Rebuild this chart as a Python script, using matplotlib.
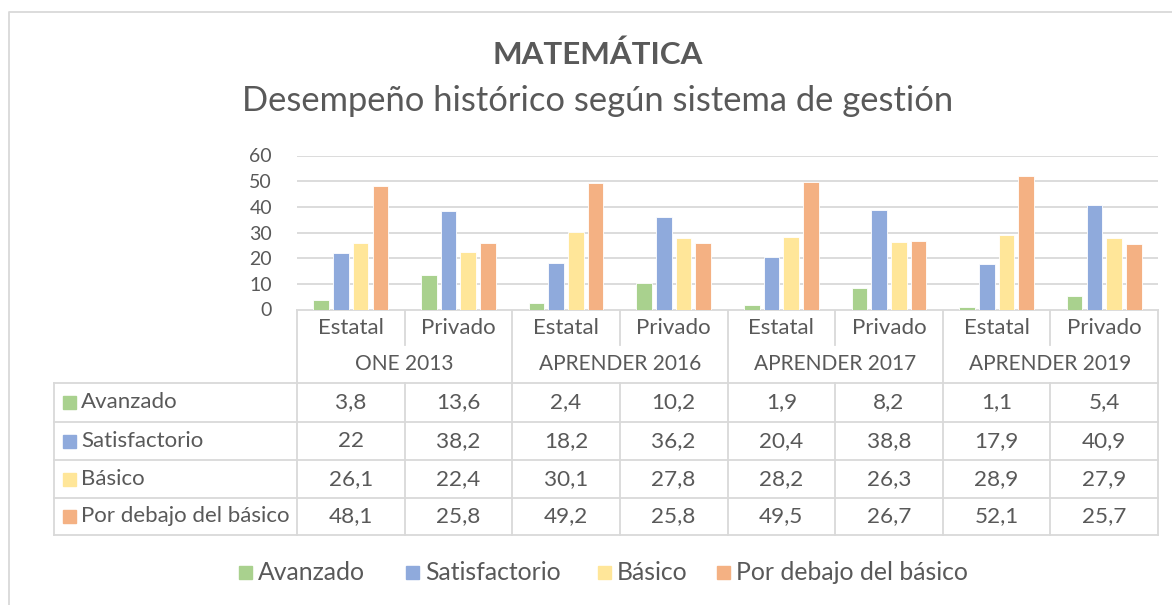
import numpy as np
import matplotlib
matplotlib.use('Agg')
import matplotlib.pyplot as plt
from matplotlib.patches import Rectangle

# Data
groups = ['ONE 2013', 'APRENDER 2016', 'APRENDER 2017', 'APRENDER 2019']
sectors = ['Estatal', 'Privado']
series = ['Avanzado', 'Satisfactorio', 'Básico', 'Por debajo del básico']
avanzado = [3.8, 13.6, 2.4, 10.2, 1.9, 8.2, 1.1, 5.4]
satisfactorio = [22, 38.2, 18.2, 36.2, 20.4, 38.8, 17.9, 40.9]
basico = [26.1, 22.4, 30.1, 27.8, 28.2, 26.3, 28.9, 27.9]
por_debajo = [48.1, 25.8, 49.2, 25.8, 49.5, 26.7, 52.1, 25.7]
colors = ['#A9D18E', '#8FAADC', '#FFE699', '#F4B183']

values = [avanzado, satisfactorio, basico, por_debajo]

W, H = 1172, 605
TXT = '#595959'
GRID = '#D9D9D9'
plt.rcParams['font.family'] = ['Lato', 'DejaVu Sans']

fig = plt.figure(figsize=(W / 100, H / 100), dpi=100)

# overlay in pixel coords for table, titles, legend
ov = fig.add_axes([0, 0, 1, 1])
ov.set_xlim(0, W)
ov.set_ylim(H, 0)
ov.axis('off')

x_left, x_right = 297, 1158
y_top, y_zero = 155.5, 309.5
ax = fig.add_axes([x_left / W, 1 - y_zero / H, (x_right - x_left) / W, (y_zero - y_top) / H])

n = len(avanzado)
x = np.arange(n)
pitch = 0.183
bw = 0.145
for i, (name, vals) in enumerate(zip(series, values)):
    ax.bar(x + (i - 1.5) * pitch, vals, width=bw, color=colors[i],
           edgecolor='white', linewidth=0.6, label=name, zorder=3)

ax.set_xlim(-0.5, n - 0.5)
ax.set_ylim(0, 60)
ax.set_yticks(range(0, 61, 10))
ax.yaxis.grid(True, color=GRID, linewidth=1.3)
ax.set_axisbelow(True)
for s in ax.spines.values():
    s.set_visible(False)
ax.set_xticks([])
ax.tick_params(axis='y', length=0, pad=18, labelsize=14, labelcolor=TXT)

# titles
ov.text(598, 55, 'MATEMÁTICA', ha='center', va='center', fontsize=22.6,
        fontweight='bold', color=TXT)
ov.text(598, 101, 'Desempeño histórico según sistema de gestión', ha='center',
        va='center', fontsize=24.8, color=TXT)

# outer chart border (partially cropped)
ov.plot([9, 9, W + 5], [H + 5, 12, 12], color=GRID, lw=1.3, clip_on=False)

# category axis
col_w = (x_right - x_left) / n
ov.plot([x_left, x_right], [310, 310], color=GRID, lw=1.3)
for k in range(n + 1):
    xe = x_left + k * col_w
    y_end = 383 if k % 2 == 0 else 345
    ov.plot([xe, xe], [310, y_end], color=GRID, lw=1.3)
for k in range(n):
    ov.text(x_left + (k + 0.5) * col_w, 328, sectors[k % 2], ha='center',
            va='center', fontsize=16, color=TXT)
for g, name in enumerate(groups):
    ov.text(x_left + (2 * g + 1) * col_w, 364, name, ha='center', va='center',
            fontsize=15, color=TXT)

# data table
rows_y = [383, 422, 460, 498, 535]
tab_left = 54
for yy in rows_y:
    ov.plot([tab_left, x_right], [yy, yy], color=GRID, lw=1.3)
for xe in [tab_left] + [x_left + k * col_w for k in range(n + 1)]:
    ov.plot([xe, xe], [rows_y[0], rows_y[-1]], color=GRID, lw=1.3)
for r, (name, vals) in enumerate(zip(series, values)):
    yc = (rows_y[r] + rows_y[r + 1]) / 2
    ov.add_patch(Rectangle((63, yc - 6.5), 13, 13, color=colors[r]))
    ov.text(81, yc, name, ha='left', va='center', fontsize=16, color=TXT)
    for k, v in enumerate(vals):
        label = f'{v:g}'.replace('.', ',')
        ov.text(x_left + (k + 0.5) * col_w, yc, label, ha='center', va='center',
                fontsize=16.2, color=TXT)

# legend
leg_x = [239, 406, 598, 717]
for i, name in enumerate(series):
    ov.add_patch(Rectangle((leg_x[i], 566), 13, 13, color=colors[i]))
    ov.text(leg_x[i] + 19, 573, name, ha='left', va='center', fontsize=17.8,
            color=TXT)

fig.savefig('out.png', dpi=100)
